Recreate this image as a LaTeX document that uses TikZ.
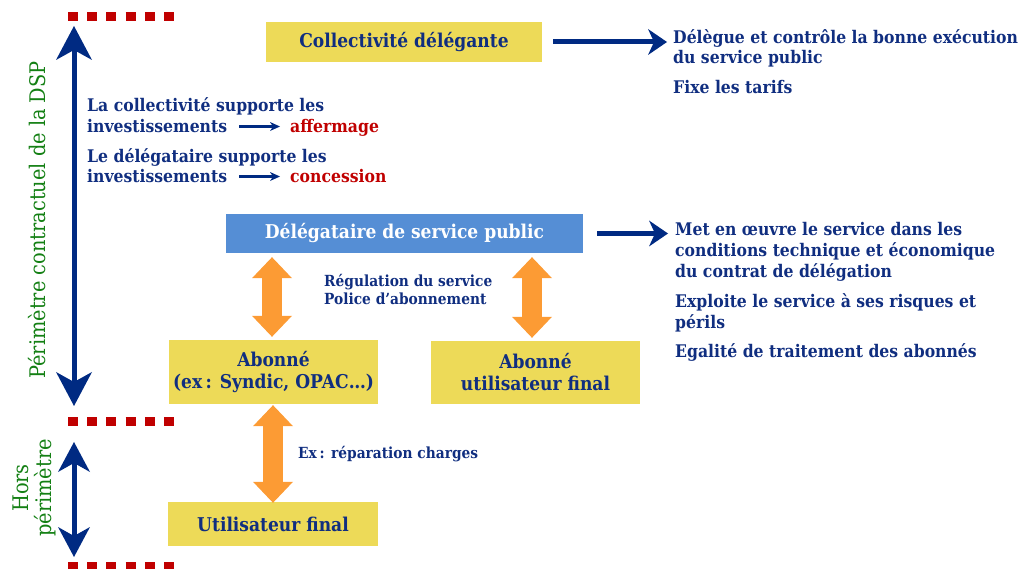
\documentclass[tikz,border=0pt]{standalone}
\usepackage{fontspec}
\setmainfont{DejaVu Serif}[FakeStretch=0.9]
\usetikzlibrary{arrows.meta,calc}
\definecolor{navy}{RGB}{16,46,128}
\definecolor{arrblue}{RGB}{0,42,130}
\definecolor{boxyellow}{RGB}{237,218,88}
\definecolor{boxblue}{RGB}{85,142,213}
\definecolor{darkred}{RGB}{192,0,0}
\definecolor{dspgreen}{RGB}{20,128,20}
\definecolor{orangearr}{RGB}{252,155,52}
\begin{document}
\begin{tikzpicture}[x=1pt,y=-1pt,
  ybox/.style={fill=boxyellow, text=navy, font=\bfseries\fontsize{19}{22}\selectfont, align=center, inner sep=0pt},
  bbox/.style={fill=boxblue, text=white, font=\bfseries\fontsize{19}{22}\selectfont, align=center, inner sep=0pt},
  txt/.style={text=navy, font=\bfseries\fontsize{17.4}{21}\selectfont, align=left, inner sep=0pt, anchor=base west},
  smalltxt/.style={text=navy, font=\bfseries\fontsize{15.3}{18}\selectfont, align=left, inner sep=0pt, anchor=base west},
  redtxt/.style={text=darkred, font=\bfseries\fontsize{17.4}{21}\selectfont, inner sep=0pt, anchor=base west},
  greentxt/.style={text=dspgreen, font=\fontsize{21.5}{23}\selectfont, align=center, inner sep=0pt, rotate=90},
  bigarrow/.style={draw=arrblue, line width=5pt, {Stealth[length=34pt,width=36pt,inset=10pt,line width=0pt]}-{Stealth[length=34pt,width=36pt,inset=10pt,line width=0pt]}},
  midarrow/.style={draw=arrblue, line width=5pt, {Stealth[length=30pt,width=32pt,inset=9pt,line width=0pt]}-{Stealth[length=30pt,width=32pt,inset=9pt,line width=0pt]}},
  sidearrow/.style={draw=arrblue, line width=5pt, -{Stealth[length=19pt,width=26pt,inset=6pt,line width=0pt]}},
  tinyarrow/.style={draw=arrblue, line width=2.5pt, -{Stealth[length=10pt,width=9pt,inset=3pt,line width=0pt]}},
  oarrow/.style={draw=orangearr, line width=20pt, {Triangle[length=21pt,width=40pt,line width=0pt]}-{Triangle[length=21pt,width=40pt,line width=0pt]}},
  reddots/.style={draw=darkred, line width=9pt, dash pattern=on 10pt off 9.2pt}
]
\useasboundingbox (0,0) rectangle (1029,569);

% red dotted limits
\coordinate (d1a) at (68,16.5); \coordinate (d1b) at (180,16.5);
\coordinate (d2a) at (68,422); \coordinate (d2b) at (180,422);
\coordinate (d3a) at (68,566); \coordinate (d3b) at (180,566);
\draw[reddots] (d1a) -- (d1b);
\draw[reddots] (d2a) -- (d2b);
\draw[reddots] (d3a) -- (d3b);

% vertical arrows
\coordinate (ptop) at (74,26); \coordinate (pbot) at (74,406);
\draw[bigarrow] (pbot) -- (ptop);
\coordinate (htop) at (74,442); \coordinate (hbot) at (74,557);
\draw[midarrow] (htop) -- (hbot);

% green labels
\node[greentxt] (perim) at (37,220) {Périmètre contractuel de la DSP};
\node[greentxt] (hors) at (34,488) {Hors\\périmètre};

% boxes
\node[ybox, minimum width=276pt, minimum height=40pt] (coll) at (404,42) {Collectivité délégante};
\node[bbox, minimum width=357pt, minimum height=39pt] (deleg) at (404.5,233.5) {Délégataire de service public};
\node[ybox, minimum width=209pt, minimum height=64pt] (ab1) at (273.5,372) {Abonné\\(ex\hspace{0.18em}: Syndic, OPAC…)};
\node[ybox, minimum width=209pt, minimum height=63pt] (ab2) at (535.5,372.5) {Abonné\\utilisateur final};
\node[ybox, minimum width=210pt, minimum height=44pt] (util) at (273,524) {Utilisateur final};

% left texts
\node[txt] (l1) at (87,112) {La collectivité supporte les};
\node[txt] (inv1) at (87,133) {investissements};
\node[redtxt] (aff) at (290,133) {affermage};
\node[txt] (l2) at (87,163) {Le délégataire supporte les};
\node[txt] (inv2) at (87,183) {investissements};
\node[redtxt] (conc) at (290,183) {concession};
\draw[tinyarrow] ([xshift=12pt]inv1.east) -- ([xshift=-10pt]aff.west |- inv1.east);
\draw[tinyarrow] ([xshift=12pt]inv2.east) -- ([xshift=-10pt]conc.west |- inv2.east);

% right texts (base = last line)
\node[txt, font=\bfseries\fontsize{17.4}{19.5}\selectfont] (t1) at (673,63.5) {Délègue et contrôle la bonne exécution\\du service public};
\node[txt] (t1b) at (673,94) {Fixe les tarifs};
\node[txt] (t2) at (675,278) {Met en œuvre le service dans les\\conditions technique et économique\\du contrat de délégation};
\node[txt] (t2b) at (675,329) {Exploite le service à ses risques et\\périls};
\node[txt] (t2c) at (675,358) {Egalité de traitement des abonnés};

\draw[sidearrow] ([xshift=11pt]coll.east) -- ([xshift=-6pt]coll.east -| t1.west);
\draw[sidearrow] ([xshift=14pt]deleg.east) -- ([xshift=-7pt]deleg.east -| t2.west);

% middle labels
\node[smalltxt] (regl) at (324,305) {Régulation du service\\Police d’abonnement};
\node[smalltxt] (rep) at (298,459) {Ex\hspace{0.18em}: réparation charges};

% orange double arrows
\draw[oarrow] ([xshift=-1.5pt,yshift=-4pt]deleg.south -| ab1.north) -- ([xshift=-1.5pt,yshift=3pt]ab1.north);
\draw[oarrow] ([xshift=-3.5pt,yshift=-4pt]deleg.south -| ab2.north) -- ([xshift=-3.5pt,yshift=3pt]ab2.north);
\draw[oarrow] ([yshift=-1pt]ab1.south -| util.north) -- ([yshift=-1pt]util.north);
\end{tikzpicture}
\end{document}
